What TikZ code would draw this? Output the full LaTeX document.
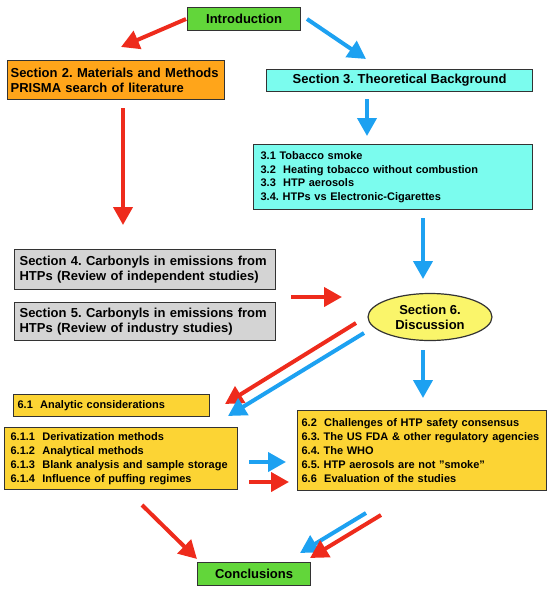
\documentclass[tikz,border=0pt]{standalone}
\usepackage{fontspec}
\setmainfont{Liberation Sans}
\usetikzlibrary{arrows.meta,shapes.geometric}
\definecolor{cgreen}{HTML}{62D63A}
\definecolor{corange}{HTML}{FFA51A}
\definecolor{ccyan}{HTML}{7BFCEE}
\definecolor{cgray}{HTML}{D4D4D4}
\definecolor{cyellow}{HTML}{FAF56A}
\definecolor{cgold}{HTML}{FCD434}
\definecolor{cred}{HTML}{EE2B1C}
\definecolor{cblue}{HTML}{1DA1F1}
\definecolor{bord}{HTML}{333333}
\frenchspacing
\hyphenpenalty=10000
\exhyphenpenalty=10000
\begin{document}
\begin{tikzpicture}[x=1pt,y=-1pt,
  box/.style={draw=bord, line width=1.2pt, inner ysep=0pt, anchor=north west,
    font=\bfseries\fontsize{13}{15}\selectfont},
  listbox/.style={box, align=left, font=\bfseries\fontsize{11}{13.8}\selectfont},
  redarr/.style={draw=cred, line width=4pt, -{Triangle[length=18pt,width=19pt]}},
  bluearr/.style={draw=cblue, line width=4pt, -{Triangle[length=18pt,width=19pt]}}]
\useasboundingbox (0,0) rectangle (550,590);

\node[box, fill=cgreen, minimum width=113pt, minimum height=23pt] (intro) at (187,7) {Introduction};
\node[box, fill=corange, minimum width=217pt, minimum height=39pt, inner xsep=3pt, text width=211pt, align=left] (sec2) at (7,60) {Section 2. Materials and Methods\\PRISMA search of literature};
\node[box, fill=ccyan, minimum width=266pt, minimum height=22pt] (sec3) at (266,69) {Section 3. Theoretical Background};
\node[listbox, fill=ccyan, minimum height=65pt, inner xsep=7pt, text width=265pt] (s3list) at (253,144) {3.1 Tobacco smoke\\3.2~ Heating tobacco without combustion\\3.3~ HTP aerosols\\3.4. HTPs vs Electronic-Cigarettes};
\node[box, fill=cgray, minimum height=40pt, inner xsep=5pt, text width=251pt, align=left] (sec4) at (14,249) {Section 4. Carbonyls in emissions from\\HTPs (Review of independent studies)};
\node[box, fill=cgray, minimum height=38pt, inner xsep=5pt, text width=251pt, align=left] (sec5) at (14,302) {Section 5. Carbonyls in emissions from\\HTPs (Review of industry studies)};
\node[ellipse, draw=bord, line width=1.2pt, fill=cyellow, minimum width=124pt, minimum height=47pt, inner sep=0pt, align=center, font=\bfseries\fontsize{13}{15}\selectfont] (disc) at (430,317) {Section 6.\\Discussion};
\node[listbox, fill=cgold, minimum height=22pt, inner xsep=4pt, text width=188pt] (s61) at (13,394) {6.1~ Analytic considerations};
\node[listbox, fill=cgold, minimum height=62pt, inner xsep=6pt, text width=221pt, font=\bfseries\fontsize{11}{14}\selectfont] (s61list) at (4,427) {6.1.1~ Derivatization methods\\6.1.2~ Analytical methods\\6.1.3~ Blank analysis and sample storage\\6.1.4~ Influence of puffing regimes};
\node[listbox, fill=cgold, minimum height=80pt, inner xsep=4pt, text width=241pt] (s62list) at (297,410) {6.2~ Challenges of HTP safety consensus\\6.3. The US FDA \& other regulatory agencies\\6.4. The WHO\\6.5. HTP aerosols are not \char"22 smoke\char"22\\6.6~ Evaluation of the studies};
\node[box, fill=cgreen, minimum width=113pt, minimum height=23pt] (concl) at (197,562) {Conclusions};

% arrow end points
\coordinate (a1s) at (186,19);  \coordinate (a1e) at (121,47);
\coordinate (a2s) at (307,19);  \coordinate (a2e) at (366,59);
\coordinate (a3s) at (367,99);  \coordinate (a3e) at (367,136);
\coordinate (a4s) at (123,108); \coordinate (a4e) at (123,225);
\coordinate (a5s) at (423,218); \coordinate (a5e) at (423,279);
\coordinate (a6s) at (291,297); \coordinate (a6e) at (342,297);
\coordinate (a7s) at (356,323); \coordinate (a7e) at (225,404);
\coordinate (a8s) at (364,333); \coordinate (a8e) at (228,416);
\coordinate (a9s) at (423,350); \coordinate (a9e) at (423,398);
\coordinate (a10s) at (249,462); \coordinate (a10e) at (286,462);
\coordinate (a11s) at (249,482); \coordinate (a11e) at (289,482);
\coordinate (a12s) at (142,505); \coordinate (a12e) at (197,559);
\coordinate (a13s) at (366,513); \coordinate (a13e) at (300,553);
\coordinate (a14s) at (381,515); \coordinate (a14e) at (310,558);

\draw[redarr] (a1s) -- (a1e);
\draw[bluearr] (a2s) -- (a2e);
\draw[bluearr] (a3s) -- (a3e);
\draw[redarr] (a4s) -- (a4e);
\draw[bluearr] (a5s) -- (a5e);
\draw[redarr] (a6s) -- (a6e);
\draw[redarr] (a7s) -- (a7e);
\draw[bluearr] (a8s) -- (a8e);
\draw[bluearr] (a9s) -- (a9e);
\draw[bluearr] (a10s) -- (a10e);
\draw[redarr] (a11s) -- (a11e);
\draw[redarr] (a12s) -- (a12e);
\draw[bluearr] (a13s) -- (a13e);
\draw[redarr] (a14s) -- (a14e);
\end{tikzpicture}
\end{document}
